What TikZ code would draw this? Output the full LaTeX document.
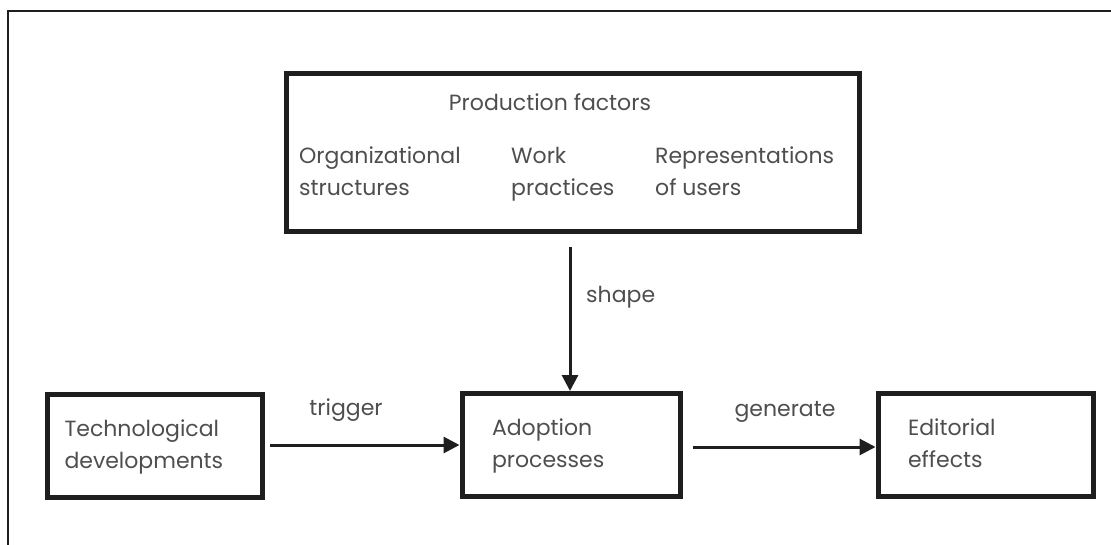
\documentclass[tikz,border=0pt]{standalone}
\usepackage{fontspec}
\setmainfont{Poppins}
\usetikzlibrary{arrows.meta}
\definecolor{inkgray}{HTML}{4E4E4E}
\definecolor{framegray}{HTML}{1E1E1E}
\tikzset{
  x=1pt, y=-1pt,
  txt/.style={text=inkgray, font=\fontsize{22}{32}\selectfont, inner sep=0pt},
  box/.style={draw=framegray, line width=5pt, minimum height=103pt, align=left,
    text=inkgray, font=\fontsize{22}{32}\selectfont, inner ysep=0pt},
  flow/.style={draw=framegray, line width=3pt, -{Triangle[length=16pt,width=16pt]}},
  lbl/.style={txt}
}
\begin{document}
\begin{tikzpicture}
\useasboundingbox (0,0) rectangle (1111,545);
% outer frame (top and left rule)
\draw[line width=2pt, framegray] (1111,11) -- (8,11) -- (8,545);

% production factors box
\node[draw=framegray, line width=5pt, minimum width=573pt, minimum height=158pt] (pf) at (572.5,153) {};
\node[txt] (pfhead) at (550,102) {Production factors};
\node[txt, anchor=west, align=left] (org) at (299,173) {\strut Organizational\\\strut structures};
\node[txt, anchor=west, align=left] (work) at (511,173) {\strut Work\\\strut practices};
\node[txt, anchor=west, align=left] (rep) at (655,173) {\strut Representations\\\strut of users};

% lower row
\node[box, text width=180pt, inner xsep=17.5pt] (tech) at (154.5,446) {\strut Technological\\\strut developments};
\node[box, text width=158pt, inner xsep=30pt] (adopt) at (571,445) {\strut Adoption\\\strut processes};
\node[box, text width=155pt, inner xsep=30pt] (edit) at (985.5,445) {\strut Editorial\\\strut effects};

% connectors
\coordinate (trigS) at (270,445);
\coordinate (genS) at (693,447);
\coordinate (shpS) at (570,247);
\draw[flow] (trigS) -- (trigS -| adopt.west);
\draw[flow] (genS) -- (genS -| edit.west);
\draw[flow] (shpS) -- (shpS |- adopt.north);

\node[lbl] (ltrig) at (346,410) {trigger};
\node[lbl] (lgen) at (785,412) {generate};
\node[lbl, anchor=west] (lshape) at (586,297) {shape};
\end{tikzpicture}
\end{document}
